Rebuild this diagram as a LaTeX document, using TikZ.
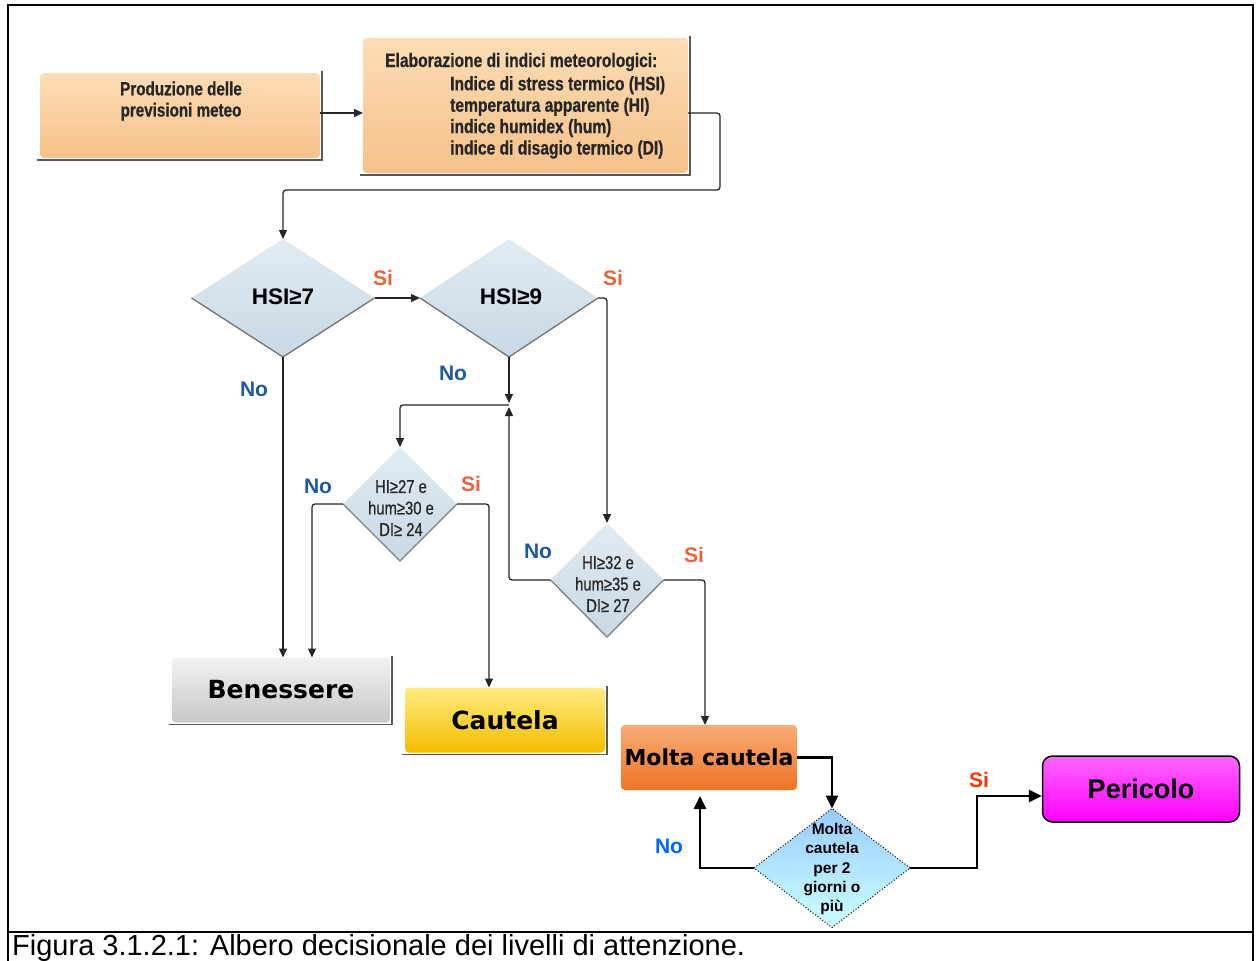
\documentclass[tikz,border=0pt]{standalone}
\usepackage{fontspec}
\setmainfont{Liberation Sans}
\newfontfamily\condf[FakeStretch=0.8,FakeBold=0.6]{Liberation Sans}
\newfontfamily\dejab{DejaVu Sans}
\usetikzlibrary{shapes.geometric,arrows.meta,calc}
\definecolor{peachT}{HTML}{FCDDB6}
\definecolor{peachB}{HTML}{F6C189}
\definecolor{dmd}{HTML}{D5E2EC}
\definecolor{dmdB}{HTML}{C9D8E4}
\definecolor{siO}{HTML}{E8643C}
\definecolor{noB}{HTML}{1E5AA0}
\definecolor{siR}{HTML}{FF3300}
\definecolor{noBr}{HTML}{0066FF}
\definecolor{txtd}{HTML}{262626}
\definecolor{cautT}{HTML}{FFEC80}
\definecolor{cautB}{HTML}{F4BE00}
\definecolor{moltT}{HTML}{F8AC78}
\definecolor{moltB}{HTML}{EF7424}
\newcommand{\boxshadow}[1]{\draw[shadowline] ([xshift=-3pt,yshift=-2pt]#1.south west) -- ([xshift=2pt,yshift=-2pt]#1.south east) -- ([xshift=2pt,yshift=2pt]#1.north east);}
\begin{document}
\begin{tikzpicture}[x=1pt,y=-1pt,
  shadowline/.style={draw=black!65, line width=1.3},
  pbox/.style={rectangle, rounded corners=4, inner sep=0, outer sep=0, top color=peachT, bottom color=peachB},
  dia/.style={diamond, inner sep=0, outer sep=0, rounded corners=3, top color=dmd!70!white, bottom color=dmdB, draw=none},
  arr/.style={draw=black!85, line width=1.3, -{Triangle[length=9pt,width=8pt]}, rounded corners=3},
  arrB/.style={draw=black, line width=2.8, -{Triangle[length=13pt,width=12pt]}},
  sio/.style={text=siO, font=\bfseries\fontsize{21}{24}\selectfont},
  nob/.style={text=noB, font=\bfseries\fontsize{21}{24}\selectfont},
  lvl/.style={rectangle, rounded corners=4, inner sep=0, outer sep=0, font=\dejab\bfseries\fontsize{25}{28}\selectfont}
]
\useasboundingbox (0,0) rectangle (1256,961);
\fill[white] (0,0) rectangle (1256,961);
% frame
\draw[line width=2.5] (8,961) -- (8,5) -- (1253,5) -- (1253,961);
\draw[line width=2.5] (8,932) -- (1253,932);

% top boxes
\node[pbox, minimum width=280, minimum height=85] (prod) at (180,115.5) {};
\boxshadow{prod}
\node[align=center, text=txtd, font=\condf\bfseries\fontsize{19}{21.3}\selectfont] (prodT) at (181,101) {Produzione delle\\previsioni meteo};
\node[pbox, minimum width=325, minimum height=135] (elab) at (525.5,105.5) {};
\boxshadow{elab}
\node[anchor=base west, inner sep=0, text=txtd, font=\condf\bfseries\fontsize{19.5}{21.3}\selectfont] (elabT1) at (385,67) {Elaborazione di indici meteorologici:};
\node[anchor=north west, inner sep=0, align=left, text=txtd, font=\condf\bfseries\fontsize{19.5}{21.4}\selectfont] (elabT2) at (450,76) {Indice di stress termico (HSI)\\temperatura apparente (HI)\\indice humidex (hum)\\indice di disagio termico (DI)};

% HSI diamonds
\node[dia, minimum width=183, minimum height=118] (hsi7) at (283,298) {};
\draw[shadowline, draw=black!55] (hsi7.west) -- (hsi7.south) -- (hsi7.east);
\node[font=\bfseries\fontsize{22.5}{25}\selectfont] (hsi7T) at (283,297) {HSI≥7};
\node[dia, minimum width=178, minimum height=118] (hsi9) at (509,298) {};
\draw[shadowline, draw=black!55] (hsi9.west) -- (hsi9.south) -- (hsi9.east);
\node[font=\bfseries\fontsize{22.5}{25}\selectfont] (hsi9T) at (511,297) {HSI≥9};

% HI diamonds
\node[dia, minimum width=114, minimum height=114] (hi27) at (400,504) {};
\draw[shadowline, draw=black!50] (hi27.west) -- (hi27.south) -- (hi27.east);
\node[align=center, text=txtd, font=\condf\fontsize{18.5}{21.5}\selectfont] (hi27T) at (401,508) {HI≥27 e\\hum≥30 e\\DI≥ 24};
\node[dia, minimum width=113, minimum height=114] (hi32) at (607,580) {};
\draw[shadowline, draw=black!50] (hi32.west) -- (hi32.south) -- (hi32.east);
\node[align=center, text=txtd, font=\condf\fontsize{18.5}{21.5}\selectfont] (hi32T) at (608,584) {HI≥32 e\\hum≥35 e\\DI≥ 27};

% level boxes
\node[lvl, minimum width=218, minimum height=65, top color=white!95!black, bottom color=black!22] (bene) at (281,690) {Benessere};
\boxshadow{bene}
\node[lvl, minimum width=200, minimum height=65, top color=cautT, bottom color=cautB] (caut) at (505,720) {Cautela};
\boxshadow{caut}
\node[lvl, minimum width=176, minimum height=65, top color=moltT, bottom color=moltB, font=\dejab\bfseries\fontsize{22}{26}\selectfont] (molta) at (709,757.5) {Molta cautela};
\node[rectangle, rounded corners=10, draw=black, line width=1.5, minimum width=197, minimum height=66, top color=magenta!60!white, bottom color=magenta, font=\bfseries\fontsize{27}{30}\selectfont] (peric) at (1141,789) {Pericolo};

% bottom diamond
\node[diamond, inner sep=0, outer sep=0, minimum width=156, minimum height=119, draw=black, dotted, line width=1, top color={rgb,255:red,153;green,204;blue,255}, bottom color={rgb,255:red,204;green,255;blue,255}] (mc2) at (832,868) {};
\node[align=center, font=\bfseries\fontsize{15.5}{19.3}\selectfont] (mc2T) at (832,869) {Molta\\cautela\\per 2\\giorni o\\più};

% connectors top
\draw[arr] (prod.east |- 0,113) -- (elab.west |- 0,113);
\draw[arr] (elab.east |- 0,113) -| (720,190) -| (hsi7.north);
\draw[arr] (hsi7.east) -- (hsi9.west);
\draw[arr] (hsi9.east) -| (hi32.north);
\draw[arr] (hsi7.south) -- (hsi7.south |- bene.north);
\coordinate (jdown) at (509,403);
\coordinate (jup) at (509,407);
\coordinate (jmid) at (509,405);
\draw[arr] (hsi9.south) -- (jdown);
\draw[arr] (jmid) -| (hi27.north);
\draw[arr] (hi32.west) -| (jup);
\draw[arr] (hi27.west) -| ([xshift=31pt]bene.north);
\draw[arr] (hi27.east) -| ([xshift=-16pt]caut.north);
\draw[arr] (hi32.east) -| ([xshift=-4pt]molta.north);

% labels top
\node[sio] (s1) at (383,278) {Si};
\node[sio] (s2) at (613,278) {Si};
\node[nob] (n1) at (254,389) {No};
\node[nob] (n2) at (453,373) {No};
\node[nob] (n3) at (318,486) {No};
\node[sio] (s3) at (471,484) {Si};
\node[nob] (n4) at (538,551) {No};
\node[sio] (s4) at (694,555) {Si};

% connectors bottom
\draw[arrB] (molta.east) -| (mc2.north);
\draw[arrB] (mc2.west) -| ([xshift=-9pt,yshift=-6pt]molta.south);
\draw[arrB] (mc2.east) -- ++(67,0) |- ([yshift=-7pt]peric.west);
\node[text=noBr, font=\bfseries\fontsize{21}{24}\selectfont] (n5) at (669,846) {No};
\node[text=siR, font=\bfseries\fontsize{21}{24}\selectfont] (s5) at (979,780) {Si};

% caption
\node[anchor=base west, inner sep=0, font=\fontsize{29}{32}\selectfont] (cap) at (12,955) {Figura 3.1.2.1: Albero decisionale dei livelli di attenzione.};
\end{tikzpicture}
\end{document}
